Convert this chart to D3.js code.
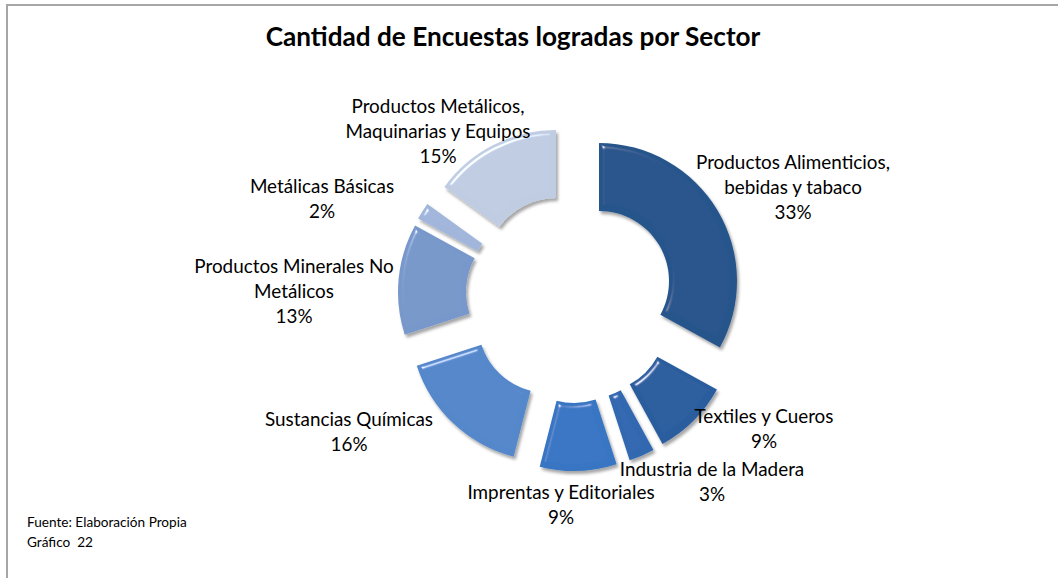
<!DOCTYPE html>
<html>
<head>
<meta charset="utf-8">
<script src="https://cdn.jsdelivr.net/npm/d3@7"></script>
<style>
  html, body { margin: 0; padding: 0; background: #fff; }
  svg { display: block; }
  text { font-family: Lato, "Open Sans", sans-serif; fill: #000; }
</style>
</head>
<body>
<svg id="chart" width="1058" height="578"></svg>
<script>
// ---- data ----
const title = "Cantidad de Encuestas logradas por Sector";
const categories = [
  "Productos Alimenticios, bebidas y tabaco",
  "Textiles y Cueros",
  "Industria de la Madera",
  "Imprentas y Editoriales",
  "Sustancias Químicas",
  "Productos Minerales No Metálicos",
  "Metálicas Básicas",
  "Productos Metálicos, Maquinarias y Equipos"
];
const labelLines = [
  ["Productos Alimenticios,", "bebidas y tabaco"],
  ["Textiles y Cueros"],
  ["Industria de la Madera"],
  ["Imprentas y Editoriales"],
  ["Sustancias Químicas"],
  ["Productos Minerales No", "Metálicos"],
  ["Metálicas Básicas"],
  ["Productos Metálicos,", "Maquinarias y Equipos"]
];
const values = [33, 9, 3, 9, 16, 13, 2, 15];
const footerLines = ["Fuente: Elaboración Propia", "Gráfico  22"];

// ---- styling / layout ----
const colors = ["#28558c", "#2b5d9e", "#3067b0", "#3776c3", "#5487cb", "#7898cb", "#a1b6da", "#bfcce2"];
const explode = [[26,-17],[23,25],[14,31],[1,35],[-25,25],[-37,-6],[-34,-13],[-17,-30]];
const labelAnchor = [[793,163],[764,417],[712,470],[561,493],[349,420],[294,267],[322,187],[438,107]];
const cx = 573, cy = 298, rOuter = 138, rInner = 70;
const lineGap = 25;

const svg = d3.select("#chart");

// frame
svg.append("rect").attr("x", 7).attr("y", 5).attr("width", 1080).attr("height", 600)
  .attr("fill", "none").attr("stroke", "#a6a6a6").attr("stroke-width", 2);

// filter for bevel + shadow
const defs = svg.append("defs");
const f = defs.append("filter").attr("id", "bevel")
  .attr("x", "-20%").attr("y", "-20%").attr("width", "140%").attr("height", "140%");
f.append("feGaussianBlur").attr("in", "SourceAlpha").attr("stdDeviation", 2.5).attr("result", "blur");
const spec = f.append("feSpecularLighting").attr("in", "blur").attr("surfaceScale", 4)
  .attr("specularConstant", 0.8).attr("specularExponent", 60).attr("lighting-color", "#ffffff").attr("result", "spec");
spec.append("feDistantLight").attr("azimuth", 235).attr("elevation", 40);
f.append("feComposite").attr("in", "spec").attr("in2", "SourceAlpha").attr("operator", "in").attr("result", "specIn");
f.append("feComposite").attr("in", "SourceGraphic").attr("in2", "specIn").attr("operator", "arithmetic")
  .attr("k1", 0).attr("k2", 1).attr("k3", 1).attr("k4", 0).attr("result", "lit");
f.append("feGaussianBlur").attr("in", "SourceAlpha").attr("stdDeviation", 1.8).attr("result", "sb");
f.append("feOffset").attr("in", "sb").attr("dx", 2).attr("dy", 2.5).attr("result", "so");
f.append("feFlood").attr("flood-color", "#000").attr("flood-opacity", 0.35).attr("result", "fl");
f.append("feComposite").attr("in", "fl").attr("in2", "so").attr("operator", "in").attr("result", "shadow");
const mg = f.append("feMerge");
mg.append("feMergeNode").attr("in", "shadow");
mg.append("feMergeNode").attr("in", "lit");

// donut
const pie = d3.pie().sort(null).value(d => d).startAngle(0).endAngle(2 * Math.PI);
const arc = d3.arc().innerRadius(rInner).outerRadius(rOuter);
const arcsData = pie(values);
const total = d3.sum(values);
const pct = d3.format(".0%");

const g = svg.append("g").attr("transform", `translate(${cx},${cy})`);
g.selectAll("path.slice").data(arcsData).enter().append("path")
  .attr("class", "slice")
  .attr("d", arc)
  .attr("transform", (d, i) => `translate(${explode[i][0]},${explode[i][1]})`)
  .attr("fill", (d, i) => colors[i])
  .attr("filter", "url(#bevel)");

// helper: fit font-size so that a reference string gets a target width
function fitSize(str, targetW, weight) {
  const t = svg.append("text").attr("font-size", 100).attr("font-weight", weight || "normal")
    .style("white-space", "pre").text(str);
  const w = t.node().getComputedTextLength();
  t.remove();
  return 100 * targetW / w;
}

const labelSize = fitSize("Sustancias Químicas", 168);
const titleSize = fitSize(title, 495, "bold");
const footSize = fitSize("Gráfico  22", 66);

// title
svg.append("text").attr("x", 513).attr("y", 46).attr("text-anchor", "middle")
  .attr("font-size", titleSize).attr("font-weight", "bold").text(title);

// labels
const lg = svg.append("g");
arcsData.forEach((d, i) => {
  const lines = labelLines[i].concat([pct(d.value / total)]);
  const t = lg.append("text").attr("text-anchor", "middle").attr("font-size", labelSize);
  lines.forEach((ln, k) => {
    t.append("tspan").attr("x", labelAnchor[i][0])
      .attr("y", labelAnchor[i][1] + k * lineGap + labelSize * 0.34).text(ln);
  });
});

// footer
footerLines.forEach((ln, k) => {
  svg.append("text").attr("x", 27).attr("y", 527 + k * 20).attr("font-size", footSize)
    .style("white-space", "pre").text(ln);
});
</script>
</body>
</html>
